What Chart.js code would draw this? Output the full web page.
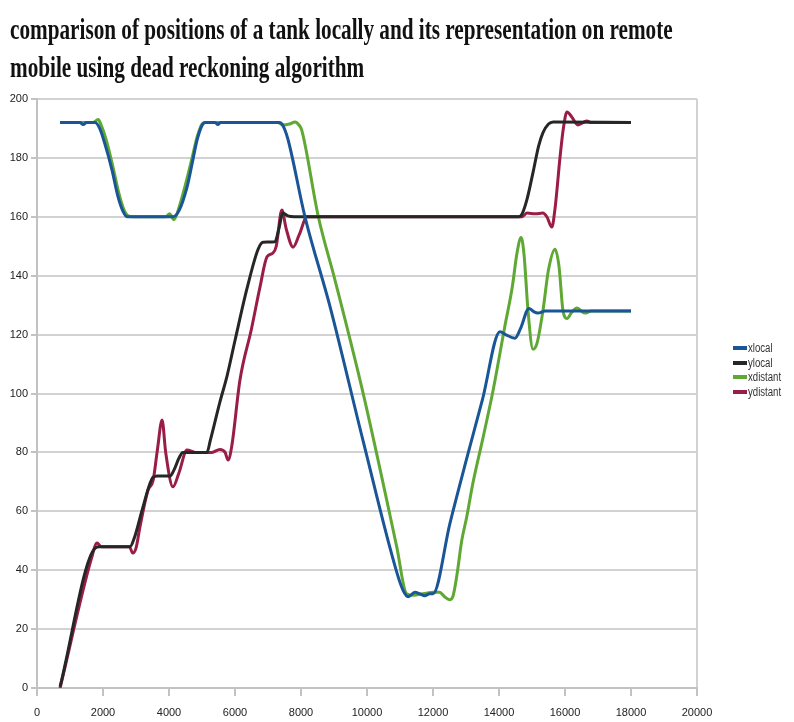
<!DOCTYPE html>
<html>
<head>
<meta charset="utf-8">
<script src="https://cdn.jsdelivr.net/npm/chart.js@4.4.1/dist/chart.umd.min.js"></script>
<style>
  html, body { margin: 0; padding: 0; background: #fff; }
  #wrap { position: relative; width: 794px; height: 722px; overflow: hidden; }
  #chart { position: absolute; left: 0; top: 0; }
  .title { position: absolute; left: 10px; font: bold 30px 'Liberation Serif', 'Times New Roman', serif;
           color: #111; white-space: nowrap; transform-origin: 0 0; line-height: 32px; }
  #t1 { top: 13px; }
  #t2 { top: 51px; }
  #legend { position: absolute; left: 733px; top: 341px; font: 12px 'Liberation Sans', Arial, sans-serif; color: #333; }
  .item { height: 14.5px; display: flex; align-items: center; white-space: nowrap; }
  .sw { display: inline-block; width: 14px; height: 4px; margin-right: 1px; }
  .lbl { display: inline-block; transform: scaleX(0.8); transform-origin: 0 50%; }
</style>
</head>
<body>
<div id="wrap">
  <canvas id="chart" width="794" height="722"></canvas>
  <div class="title" id="t1">comparison of positions of a tank locally and its representation on remote</div>
  <div class="title" id="t2">mobile using dead reckoning algorithm</div>
  <div id="legend"></div>
</div>
<script>
// x position of the tank on the local device
const xlocalT = [700, 1300, 1400, 1500, 1760, 1900, 2050, 2270, 2450, 2600, 2730, 2900, 3500, 4120, 4300, 4545, 4700, 4850, 5000, 5100, 5400, 5480, 5560, 7200, 7350, 7450, 7600, 8120, 8880, 9880, 10910, 11100, 11250, 11450, 11600, 11750, 11900, 12000, 12515, 13000, 13500, 14030, 14200, 14485, 14650, 14910, 15050, 15180, 15400, 18000];
const xlocalV = [192, 192, 191.3, 192, 192, 190, 185, 176, 167, 162, 160, 160, 160, 160, 162, 170, 178, 186, 191, 192, 192, 191.3, 192, 192, 192, 191, 186.5, 160, 129.5, 84, 39, 33, 31, 32.5, 32, 31.3, 32, 32, 56, 77, 98, 121, 120, 118.8, 122, 128.9, 127.8, 127.3, 128, 128];

// y position of the tank on the local device
const ylocalT = [700, 1760, 1900, 2820, 2950, 3200, 3520, 3650, 4030, 4150, 4300, 4420, 4600, 5150, 5250, 5540, 5760, 6000, 6360, 6700, 6850, 7210, 7330, 7450, 7600, 7800, 14600, 14700, 14850, 15030, 15200, 15330, 15500, 15640, 18000];
const ylocalV = [0.5, 47.5, 48, 48, 51, 61, 71.6, 72, 72, 74, 78, 80, 80, 80, 84, 97, 106, 118, 135.5, 149, 151.4, 151.5, 156, 161.3, 160.3, 160, 160, 161, 166, 175, 184, 188.5, 191.5, 192.2, 192];

// x position as reconstructed on the remote mobile
const xdistantT = [700, 1700, 1850, 1950, 2100, 2300, 2480, 2630, 2760, 2900, 3900, 4020, 4150, 4300, 4500, 4700, 4850, 5000, 5100, 7300, 7450, 7650, 7820, 7950, 8020, 8525, 9030, 9880, 10900, 11200, 11400, 11700, 12000, 12200, 12350, 12500, 12600, 12720, 12870, 13020, 13210, 13520, 13820, 14180, 14400, 14550, 14670, 14760, 14880, 15030, 15150, 15330, 15500, 15700, 15820, 15940, 16060, 16200, 16360, 16600, 16800, 18000];
const xdistantV = [192, 192, 193, 191, 186, 177, 168, 162.5, 160.3, 160, 160, 161, 159, 163, 171, 180, 187, 191.5, 192, 192, 191.2, 191.5, 192.2, 191, 189.5, 160, 138.5, 100.2, 48, 32, 31.5, 32, 32.5, 32.5, 31, 30, 31, 38, 50, 58, 69.6, 85.2, 101, 123, 136, 148, 153, 147, 128, 115, 117, 128, 142, 149, 143, 128, 125.5, 127.5, 129, 127.3, 128, 128];

// y position as reconstructed on the remote mobile
const ydistantT = [700, 1650, 1820, 1950, 2800, 2900, 3000, 3120, 3360, 3520, 3650, 3790, 3900, 4120, 4300, 4545, 4800, 5300, 5540, 5700, 5790, 5900, 6150, 6500, 6760, 6970, 7150, 7250, 7420, 7550, 7760, 7950, 8180, 8400, 14700, 14850, 15100, 15330, 15450, 15600, 15700, 15850, 15950, 16060, 16200, 16390, 16660, 16800, 18000];
const ydistantV = [0, 44, 49.2, 48, 48, 45.8, 47.5, 54.7, 67, 70.6, 81, 91, 80, 68.3, 73, 80.8, 80, 80, 81, 80, 77.4, 82, 104.6, 122, 136.3, 146.4, 147.7, 150, 162.3, 156, 149.7, 154, 160, 160, 160, 161.3, 161, 161.3, 160, 156.5, 163, 180.3, 190, 195.6, 194, 191.2, 192.5, 192, 192];

const seriesNames = ['xlocal', 'ylocal', 'xdistant', 'ydistant'];
const seriesColors = ['#195597', '#262626', '#5ea833', '#9a1d45'];
const xTicks = [0, 2000, 4000, 6000, 8000, 10000, 12000, 14000, 16000, 18000, 20000];
const yTicks = [0, 20, 40, 60, 80, 100, 120, 140, 160, 180, 200];

const pairs = [[xlocalT, xlocalV], [ylocalT, ylocalV], [xdistantT, xdistantV], [ydistantT, ydistantV]];
const toPoints = (t, v) => t.map((x, i) => ({ x: x, y: v[i] }));

const tickFont = { family: "'Liberation Sans', Arial, sans-serif", size: 11 };
const gridGray = '#d2d2d2';
const axisGray = '#c2c2c2';

new Chart(document.getElementById('chart'), {
  type: 'line',
  data: {
    datasets: pairs.map((p, i) => ({
      label: seriesNames[i],
      data: toPoints(p[0], p[1]),
      borderColor: seriesColors[i],
      backgroundColor: seriesColors[i],
      borderWidth: 3,
      pointRadius: 0,
      cubicInterpolationMode: 'monotone',
      fill: false
    }))
  },
  options: {
    responsive: false,
    devicePixelRatio: 1,
    animation: false,
    layout: { padding: { top: 99, right: 97, left: 0, bottom: 0 } },
    plugins: { legend: { display: false }, tooltip: { enabled: false }, title: { display: false } },
    scales: {
      x: {
        type: 'linear', min: 0, max: 20000,
        afterBuildTicks: s => { s.ticks = xTicks.map(v => ({ value: v })); },
        afterFit: s => { s.height = 34; },
        ticks: { font: tickFont, color: '#222', padding: 10, maxRotation: 0, autoSkip: false,
                 callback: v => String(v) },
        grid: {
          color: c => (c.tick && c.tick.value === 20000) ? gridGray : 'rgba(0,0,0,0)',
          tickColor: axisGray, lineWidth: 2, tickLength: 8
        },
        border: { color: axisGray, width: 2 }
      },
      y: {
        type: 'linear', min: 0, max: 200,
        afterBuildTicks: s => { s.ticks = yTicks.map(v => ({ value: v })); },
        afterFit: s => { s.width = 37; },
        ticks: { font: tickFont, color: '#222', padding: 3, callback: v => String(v) },
        grid: { color: gridGray, tickColor: axisGray, lineWidth: 2, tickLength: 6 },
        border: { color: axisGray, width: 2 }
      }
    }
  }
});

// legend
const legend = document.getElementById('legend');
seriesNames.forEach((n, i) => {
  const row = document.createElement('div');
  row.className = 'item';
  const sw = document.createElement('span');
  sw.className = 'sw';
  sw.style.background = seriesColors[i];
  const lbl = document.createElement('span');
  lbl.className = 'lbl';
  lbl.textContent = n;
  row.appendChild(sw);
  row.appendChild(lbl);
  legend.appendChild(row);
});

// squeeze the title into its condensed width
const t1 = document.getElementById('t1'), t2 = document.getElementById('t2');
const k = 663 / t1.offsetWidth;
t1.style.transform = t2.style.transform = 'scaleX(' + k + ')';
</script>
</body>
</html>
